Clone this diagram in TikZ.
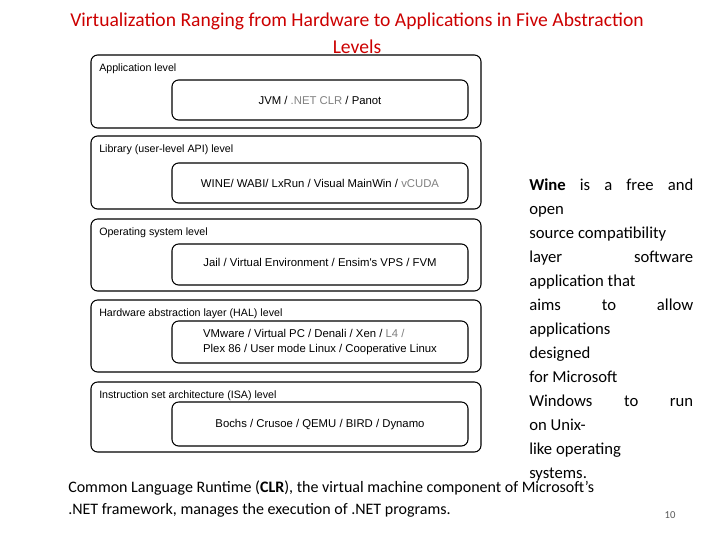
\documentclass[tikz,border=0pt]{standalone}
\usepackage{fontspec}
\setmainfont{Carlito}
\newfontfamily\arial{Liberation Sans}
\newcommand{\jline}[1]{\makebox[123pt][s]{#1}}
\begin{document}
\begin{tikzpicture}[x=0.75pt,y=-0.75pt,
  outer/.style={draw,thick,rounded corners=5pt},
  inner/.style={draw,thick,rounded corners=5pt},
  lvl/.style={anchor=west,font=\arial\fontsize{8}{9}\selectfont,inner sep=0pt},
  itxt/.style={font=\arial\fontsize{8.5}{11}\selectfont,align=left}]
\useasboundingbox (0,0) rectangle (720,540);
\node[anchor=north,text=red!80!black,font=\fontsize{14.7}{20}\selectfont,align=center,inner sep=0pt] (title) at (357,13) {Virtualization Ranging from Hardware to Applications in Five Abstraction\\Levels};
\foreach \n/\a/\b/\c/\d/\lab in {1/55/128/80/120/Application level,
 2/136/209/163/203/Library (user-level API) level,
 3/219/291/244/285/Operating system level,
 4/300/372/321/363/Hardware abstraction layer (HAL) level,
 5/382/452/402/446/Instruction set architecture (ISA) level}{
  \draw[outer] (91,\a) rectangle (481,\b);
  \draw[inner] (172,\c) rectangle (468,\d);
  \node[lvl] (l\n) at (99,\a+14) {\lab};
}
\node[itxt] (t1) at (320,100) {JVM / {\color{gray}.NET CLR} / Panot};
\node[itxt] (t2) at (320,183) {WINE/ WABI/ LxRun / Visual MainWin / {\color{gray}vCUDA}};
\node[itxt] (t3) at (320,262) {Jail / Virtual Environment / Ensim's VPS / FVM};
\node[itxt] (t4) at (320,342) {VMware / Virtual PC / Denali / Xen / {\color{gray}L4 /}\\Plex 86 / User mode Linux / Cooperative Linux};
\node[itxt] (t5) at (320,425) {Bochs / Crusoe / QEMU / BIRD / Dynamo};
\node[anchor=north west,inner sep=0pt,align=left,font=\fontsize{12.5}{18}\selectfont] (wine) at (529,179) {\jline{\textbf{Wine} is a free and}\\ open\\ source compatibility\\ \jline{layer software}\\ application that\\ \jline{aims to allow}\\ applications\\ designed\\ for Microsoft\\ \jline{Windows to run}\\ on Unix-\\ like operating\\ systems.};
\node[anchor=west,inner sep=0pt,font=\fontsize{12}{16}\selectfont,align=left] (clr) at (68,499) {Common Language Runtime (\textbf{CLR}), the virtual machine component of Microsoft's\\[1pt] .NET framework, manages the execution of .NET programs.};
\node[font=\fontsize{8}{9}\selectfont,text=gray!70!black] (pg) at (670,515) {10};
\end{tikzpicture}
\end{document}
